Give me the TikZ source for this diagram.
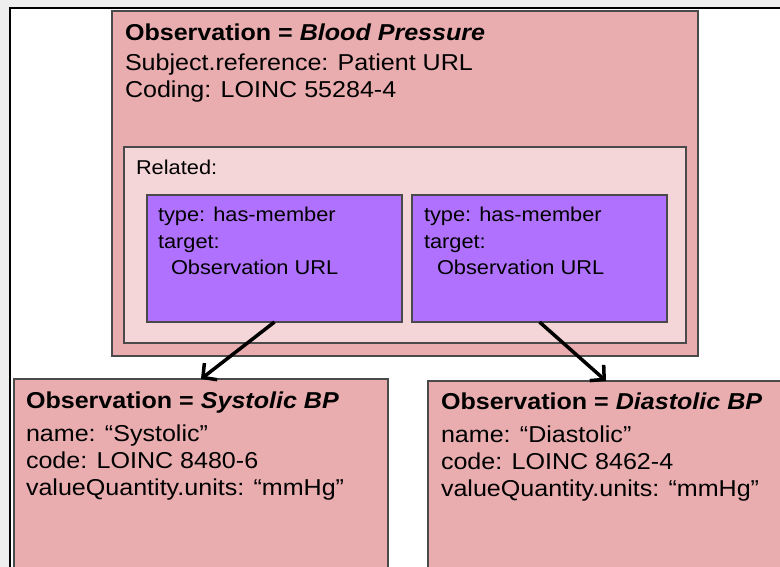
\documentclass[tikz,border=0pt]{standalone}
\usepackage{fontspec}
\setmainfont{Liberation Sans}[FakeStretch=1.09]
\usetikzlibrary{arrows.meta}
\definecolor{bgray}{HTML}{EEEEEE}
\definecolor{obsfill}{HTML}{E9ADAF}
\definecolor{relfill}{HTML}{F5D6D8}
\definecolor{memfill}{HTML}{B072FE}
\definecolor{edge}{HTML}{4A4A4A}
\tikzset{
  box/.style={draw=edge, line width=1.3pt, rectangle, inner sep=0pt, outer sep=0pt, anchor=north west},
  obs/.style={box, fill=obsfill},
  rel/.style={box, fill=relfill},
  mem/.style={box, fill=memfill},
  txt/.style={anchor=base west, inner sep=0pt, outer sep=0pt, text=black},
  big/.style={txt, font=\fontsize{23pt}{28pt}\selectfont},
  mid/.style={txt, font=\fontsize{20pt}{24pt}\selectfont},
  small/.style={txt, font=\fontsize{20pt}{24pt}\selectfont},
  link/.style={line width=3.5pt, black, -{Straight Barb[length=10pt,width=21pt]}}
}
\begin{document}
\begin{tikzpicture}[x=1pt,y=-1pt]
\useasboundingbox (0,0) rectangle (780,567);
\clip (0,0) rectangle (780,567);
\fill[bgray] (0,0) rectangle (780,567);
\draw[line width=2pt, fill=white] (10,8) rectangle (800,600);

% top observation
\node[obs, minimum width=586pt, minimum height=345pt] (bp) at (112,11) {};
\node[big] (bpt) at (125,41) {\textbf{Observation = \textit{Blood Pressure}}};
\node[big] (bps) at (125,71) {Subject.reference: Patient URL};
\node[big] (bpc) at (125,98) {Coding: LOINC 55284-4};

% related
\node[rel, minimum width=562pt, minimum height=196pt] (rel) at (124,147) {};
\node[mid] (relt) at (136,175) {Related:};

% members
\node[mem, minimum width=255pt, minimum height=127pt] (m1) at (147,195) {};
\node[small] (m1a) at (158,222) {type: has-member};
\node[small] (m1b) at (158,248) {target:};
\node[small] (m1c) at (171,274) {Observation URL};

\node[mem, minimum width=255pt, minimum height=127pt] (m2) at (412,195) {};
\node[small] (m2a) at (424,222) {type: has-member};
\node[small] (m2b) at (424,248) {target:};
\node[small] (m2c) at (437,274) {Observation URL};

% systolic
\node[obs, minimum width=374pt, minimum height=220pt] (sys) at (14,379) {};
\node[big] (syst) at (26,408) {\textbf{Observation = \textit{Systolic BP}}};
\node[big] (sysn) at (26,441) {name: “Systolic”};
\node[big] (sysc) at (26,468) {code: LOINC 8480-6};
\node[big] (sysv) at (26,495) {valueQuantity.units: “mmHg”};

% diastolic
\node[obs, minimum width=356pt, minimum height=220pt] (dia) at (428,381) {};
\node[big] (diat) at (441,409) {\textbf{Observation = \textit{Diastolic BP}}};
\node[big] (dian) at (441,442) {name: “Diastolic”};
\node[big] (diac) at (441,469) {code: LOINC 8462-4};
\node[big] (diav) at (441,496) {valueQuantity.units: “mmHg”};

% connectors
\draw[link] (m1.south) -- (sys.north);
\draw[link] (m2.south) -- (dia.north);
\end{tikzpicture}
\end{document}
